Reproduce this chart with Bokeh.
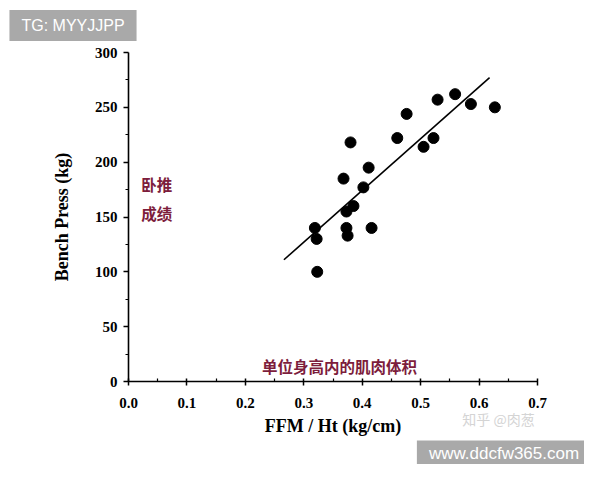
from bokeh.plotting import figure
from bokeh.models import Range1d, FixedTicker, PrintfTickFormatter, Label
from bokeh.embed import file_html
from bokeh.resources import INLINE

# ---- data ----
ffm_ht = [0.323, 0.319, 0.322, 0.373, 0.375, 0.416, 0.373, 0.385, 0.402, 0.368,
          0.411, 0.380, 0.460, 0.476, 0.505, 0.522, 0.529, 0.559, 0.586, 0.627]
bench = [100, 140, 130, 140, 133, 140, 155, 160, 177, 185,
         195, 218, 222, 244, 214, 222, 257, 262, 253, 250]
fit_x = [0.266, 0.618]
fit_y = [111, 277]
x_ticks = [0.0, 0.1, 0.2, 0.3, 0.4, 0.5, 0.6, 0.7]
y_ticks = [0, 50, 100, 150, 200, 250, 300]

W, H = 584, 464
FL, FT, FR, FB = 128, 52, 537, 381  # frame edges in canvas pixels
p = figure(width=W, height=H, output_backend="svg", toolbar_location=None,
           x_range=Range1d(0, 0.7), y_range=Range1d(0, 300),
           min_border_left=FL, min_border_right=W - FR, min_border_top=FT, min_border_bottom=H - FB)
p.outline_line_color = None
p.xgrid.visible = False
p.ygrid.visible = False
p.background_fill_color = "white"
p.border_fill_color = "white"

p.line(fit_x, fit_y, line_color="black", line_width=1.6)
p.scatter(ffm_ht, bench, size=11, color="black")

serif = "Liberation Serif"
for ax in (p.xaxis[0], p.yaxis[0]):
    ax.axis_line_color = "black"
    ax.axis_line_width = 1.6
    ax.major_tick_line_color = "black"
    ax.minor_tick_line_color = "black"
    ax.major_tick_line_width = 1.5
    ax.minor_tick_line_width = 1.2
    ax.major_label_text_font = serif
    ax.major_label_text_font_style = "bold"
    ax.major_label_text_font_size = "15px"
    ax.major_label_text_color = "black"
    ax.axis_label_text_font = serif
    ax.axis_label_text_font_style = "bold"
    ax.axis_label_text_font_size = "18px"
    ax.axis_label_text_color = "black"

p.xaxis.ticker = FixedTicker(ticks=x_ticks, minor_ticks=[0.05, 0.15, 0.25, 0.35, 0.45, 0.55, 0.65])
p.yaxis.ticker = FixedTicker(ticks=y_ticks, minor_ticks=[25, 75, 125, 175, 225, 275])
p.xaxis.formatter = PrintfTickFormatter(format="%.1f")
p.yaxis.formatter = PrintfTickFormatter(format="%d")

p.xaxis.major_tick_in = 3
p.xaxis.major_tick_out = 4
p.xaxis.minor_tick_in = 3
p.xaxis.minor_tick_out = 0
p.xaxis.major_label_standoff = 12
p.xaxis.axis_label = "FFM / Ht (kg/cm)"
p.xaxis.axis_label_standoff = 5

p.yaxis.major_tick_in = 0
p.yaxis.major_tick_out = 5
p.yaxis.minor_tick_in = 0
p.yaxis.minor_tick_out = 3
p.yaxis.major_label_standoff = 6
p.yaxis.axis_label = "Bench Press (kg)"
p.yaxis.axis_label_standoff = 20

cn = "Noto Sans CJK SC"
red = "#7d1d3c"
p.add_layout(Label(x=0.022, y=180, text="卧推", text_font=cn, text_font_style="bold",
                   text_font_size="15.5px", text_color=red, text_baseline="middle"))
p.add_layout(Label(x=0.022, y=154, text="成绩", text_font=cn, text_font_style="bold",
                   text_font_size="15.5px", text_color=red, text_baseline="middle"))
p.add_layout(Label(x=0.361, y=14.5, text="单位身高内的肌肉体积", text_font=cn, text_font_style="bold",
                   text_font_size="15.5px", text_color=red, text_baseline="middle", text_align="center"))

# watermarks placed in side panels (not clipped to the frame); screen offsets are
# relative to each label's own panel (x from frame left, y up from panel bottom)
p.add_layout(Label(x=72.5 - FL, y=27, x_units="screen", y_units="screen",
                   text="TG: MYYJJPP", text_font="Liberation Sans", text_font_size="16px",
                   text_color="white", text_baseline="middle", text_align="center",
                   background_fill_color="#a9a9a9", padding=(12, 7)), "above")
p.add_layout(Label(x=498 - FL, y=-397, x_units="screen", y_units="screen",
                   text="知乎 @肉葱", text_font=cn, text_font_size="14px",
                   text_color="#d4d4d4", text_baseline="middle", text_align="center"), "above")
p.add_layout(Label(x=503.5 - FL, y=10.5, x_units="screen", y_units="screen",
                   text="www.ddcfw365.com", text_font="Liberation Sans", text_font_size="17px",
                   text_color="white", text_baseline="middle", text_align="center",
                   background_fill_color="#a9a9a9", padding=(12, 3)), "below")

open("out.html", "w").write(file_html(p, INLINE))
